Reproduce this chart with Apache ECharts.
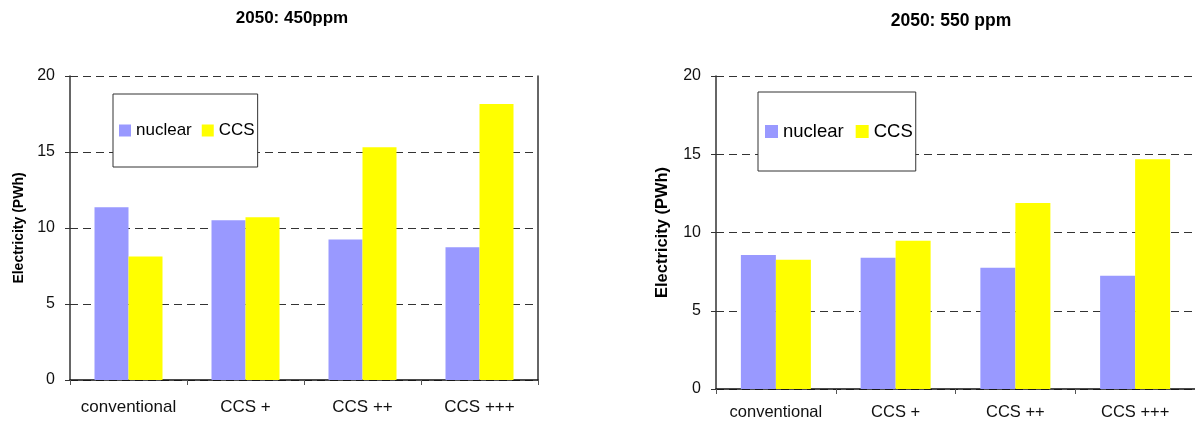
<!DOCTYPE html>
<html>
<head>
<meta charset="utf-8">
<script src="https://cdn.jsdelivr.net/npm/echarts@6/dist/echarts.min.js"></script>
<style>
html,body{margin:0;padding:0;background:#fff;}
#c{width:1195px;height:423px;}
</style>
</head>
<body>
<div id="c"></div>
<script>
const categories = ['conventional', 'CCS +', 'CCS ++', 'CCS +++'];
const nuclear450 = [11.36, 10.51, 9.25, 8.73];
const ccs450 = [8.13, 10.70, 15.32, 18.15];
const nuclear550 = [8.57, 8.38, 7.74, 7.23];
const ccs550 = [8.26, 9.47, 11.89, 14.68];
const yTicks = [0, 5, 10, 15, 20];
const titles = ['2050: 450ppm', '2050: 550 ppm'];
const yName = 'Electricity (PWh)';

const FONT = 'Liberation Sans, Arial, sans-serif';
const NUC = '#9999FF';
const CCSC = '#FFFF00';

const chart = echarts.init(document.getElementById('c'), null, {renderer: 'canvas'});

function yAxisMain(gi, fs, nameFs, nameGap) {
  return {
    gridIndex: gi, type: 'value', min: yTicks[0], max: yTicks[yTicks.length - 1], interval: 5,
    name: yName, nameLocation: 'middle', nameGap: nameGap,
    nameTextStyle: {fontFamily: FONT, fontWeight: 'bold', fontSize: nameFs, color: '#000'},
    axisLine: {show: true, lineStyle: {color: '#333', width: 1.5}},
    axisTick: {show: true, length: 5, lineStyle: {color: '#333'}},
    axisLabel: {fontFamily: FONT, fontSize: fs, color: '#111', margin: 15},
    splitLine: {show: true, lineStyle: {color: '#333', type: [8, 5], width: 1}}
  };
}
function yAxisRight(gi) {
  return {
    gridIndex: gi, type: 'value', position: 'right', min: yTicks[0], max: yTicks[yTicks.length - 1], interval: 5,
    axisLine: {show: true, lineStyle: {color: '#333', width: 1.5}},
    axisTick: {show: false}, axisLabel: {show: false}, splitLine: {show: false}
  };
}
function xAxis(gi, fs, margin) {
  return {
    gridIndex: gi, type: 'category', data: categories,
    axisLine: {show: true, lineStyle: {color: '#111', width: 1.5}},
    axisTick: {show: true, length: 5, interval: 0, lineStyle: {color: '#555'}},
    axisLabel: {interval: 0, fontFamily: FONT, fontSize: fs, color: '#111', margin: margin}
  };
}

const option = {
  animation: false,
  backgroundColor: '#fff',
  title: [
    {text: titles[0], left: 287, top: 5, textAlign: 'center',
     textStyle: {fontFamily: FONT, fontWeight: 'bold', fontSize: 17, color: '#000'}},
    {text: titles[1], left: 946, top: 7, textAlign: 'center',
     textStyle: {fontFamily: FONT, fontWeight: 'bold', fontSize: 17.5, color: '#000'}}
  ],
  legend: [
    {data: ['nuclear', 'CCS'], left: 113, top: 94, orient: 'horizontal', icon: 'rect',
     itemWidth: 12, itemHeight: 12, itemGap: 10,
     padding: [28, 3, 28, 6], borderColor: '#333', borderWidth: 1, backgroundColor: '#fff',
     textStyle: {fontFamily: FONT, fontSize: 17, color: '#000'}},
    {data: ['nuclear', 'CCS'], left: 758, top: 92, orient: 'horizontal', icon: 'rect',
     itemWidth: 13, itemHeight: 13, itemGap: 12,
     padding: [30, 3, 30, 7], borderColor: '#333', borderWidth: 1, backgroundColor: '#fff',
     textStyle: {fontFamily: FONT, fontSize: 18.5, color: '#000'}}
  ],
  grid: [
    {left: 70, top: 76, width: 468, height: 304},
    {left: 716, top: 76, width: 480, height: 313}
  ],
  xAxis: [xAxis(0, 17, 19), xAxis(1, 16.5, 15)],
  yAxis: [yAxisMain(0, 16, 14, 44), yAxisMain(1, 16, 16.5, 45), yAxisRight(0)],
  series: [
    {name: 'nuclear', type: 'bar', xAxisIndex: 0, yAxisIndex: 0, data: nuclear450,
     barWidth: 34, barGap: '0%', itemStyle: {color: NUC}},
    {name: 'CCS', type: 'bar', xAxisIndex: 0, yAxisIndex: 0, data: ccs450,
     barWidth: 34, barGap: '0%', itemStyle: {color: CCSC}},
    {name: 'nuclear', type: 'bar', xAxisIndex: 1, yAxisIndex: 1, data: nuclear550,
     barWidth: 35, barGap: '0%', itemStyle: {color: NUC}},
    {name: 'CCS', type: 'bar', xAxisIndex: 1, yAxisIndex: 1, data: ccs550,
     barWidth: 35, barGap: '0%', itemStyle: {color: CCSC}}
  ]
};
chart.setOption(option);
</script>
</body>
</html>
